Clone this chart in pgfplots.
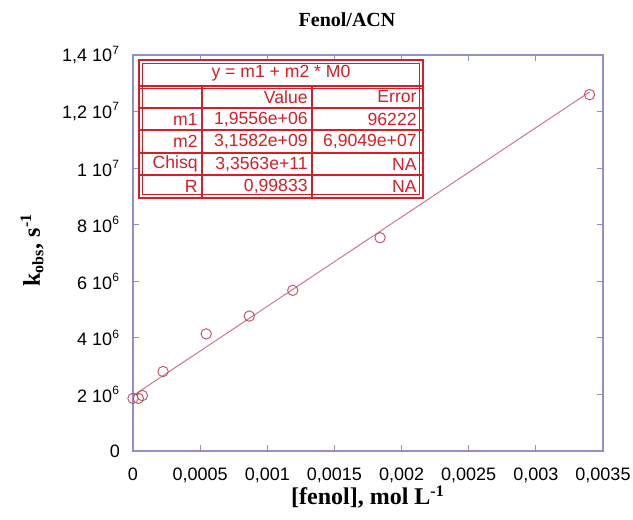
\documentclass[border=0pt]{standalone}
\usepackage{fontspec}
\setmainfont{Liberation Serif}
\setsansfont{Liberation Sans}
\usepackage{pgfplots}
\pgfplotsset{compat=1.18}
\definecolor{axiscol}{RGB}{145,145,195}
\definecolor{ptcol}{RGB}{190,80,100}
\definecolor{fitcol}{RGB}{205,120,135}
\definecolor{tabred}{RGB}{215,30,40}
\begin{document}
\begin{tikzpicture}
\path[use as bounding box] (-66.5pt,-34.5pt) rectangle (250pt,225.5pt);
\begin{axis}[
  at={(0,0)}, anchor=south west,
  width=235pt, height=198pt, scale only axis,
  xmin=0, xmax=0.0035, ymin=0, ymax=1.4e7,
  clip=false,
  axis line style={axiscol, line width=0.6pt},
  tick style={axiscol, line width=0.6pt},
  major tick length=3pt,
  tick align=inside,
  scaled x ticks=false, scaled y ticks=false,
  xtick={0,0.0005,0.001,0.0015,0.002,0.0025,0.003,0.0035},
  xticklabels={0,{0,0005},{0,001},{0,0015},{0,002},{0,0025},{0,003},{0,0035}},
  ytick={0,2e6,4e6,6e6,8e6,1e7,1.2e7,1.4e7},
  yticklabels={0,2 10\textsuperscript{6},4 10\textsuperscript{6},6 10\textsuperscript{6},8 10\textsuperscript{6},1 10\textsuperscript{7},{1,2 10\textsuperscript{7}},{1,4 10\textsuperscript{7}}},
  xticklabel style={font=\sffamily\fontsize{9}{10}\selectfont, yshift=-5pt},
  yticklabel style={font=\sffamily\fontsize{9}{10}\selectfont, xshift=-3pt},
]
\addplot[fitcol, line width=0.5pt] coordinates {(0,1.9556e6) (0.0034,12.6934e6)};
\addplot[only marks, mark=o, mark size=2.6pt, ptcol, mark options={line width=0.45pt}] coordinates {
 (0,1.86e6) (0.00004,1.86e6) (0.00007,1.96e6) (0.000224,2.81e6)
 (0.000545,4.14e6) (0.000866,4.77e6) (0.00119,5.68e6) (0.00184,7.54e6) (0.0034,12.6e6)};
\end{axis}
% title and axis labels
\node[font=\bfseries\fontsize{10}{12}\selectfont] at (107pt,215.5pt) {Fenol/ACN};
\node[font=\bfseries\fontsize{12}{14}\selectfont] at (117.5pt,-23pt) {[fenol], mol L\textsuperscript{-1}};
\node[font=\bfseries\fontsize{12}{14}\selectfont, rotate=90] at (-50.5pt,100.5pt) {k\textsubscript{obs}, s\textsuperscript{-1}};
% fit results table
\fill[white] (3pt,126.5pt) rectangle (145pt,195.5pt);
\draw[tabred, line width=1.1pt] (3pt,126.5pt) rectangle (145pt,195.5pt);
\draw[tabred, line width=0.5pt] (4.6pt,128.1pt) rectangle (143.4pt,193.9pt);
\draw[tabred, line width=1.0pt] (3pt,182.5pt) -- (145pt,182.5pt);
\draw[tabred, line width=0.5pt] (3pt,181.1pt) -- (145pt,181.1pt);
\foreach \yy in {171.5,160.5,149,138} {\draw[tabred, line width=0.9pt] (3pt,\yy pt) -- (145pt,\yy pt);}
\draw[tabred, line width=1.1pt] (34.5pt,126.5pt) -- (34.5pt,182.5pt);
\draw[tabred, line width=1.1pt] (89.5pt,126.5pt) -- (89.5pt,182.5pt);
\begin{scope}[every node/.style={font=\sffamily\fontsize{8.8}{10}\selectfont, text=tabred, inner sep=0pt}]
\node at (74pt,189pt) {y = m1 + m2 * M0};
\node[anchor=east] at (87.5pt,177pt) {Value};
\node[anchor=east] at (142pt,177pt) {Error};
\node[anchor=east] at (32.5pt,166pt) {m1};
\node[anchor=east] at (87.5pt,166pt) {1,9556e+06};
\node[anchor=east] at (142pt,166pt) {96222};
\node[anchor=east] at (32.5pt,154.75pt) {m2};
\node[anchor=east] at (87.5pt,154.75pt) {3,1582e+09};
\node[anchor=east] at (142pt,154.75pt) {6,9049e+07};
\node[anchor=east] at (32.5pt,143.5pt) {Chisq};
\node[anchor=east] at (87.5pt,143.5pt) {3,3563e+11};
\node[anchor=east] at (142pt,143.5pt) {NA};
\node[anchor=east] at (32.5pt,132.25pt) {R};
\node[anchor=east] at (87.5pt,132.25pt) {0,99833};
\node[anchor=east] at (142pt,132.25pt) {NA};
\end{scope}
\end{tikzpicture}
\end{document}
